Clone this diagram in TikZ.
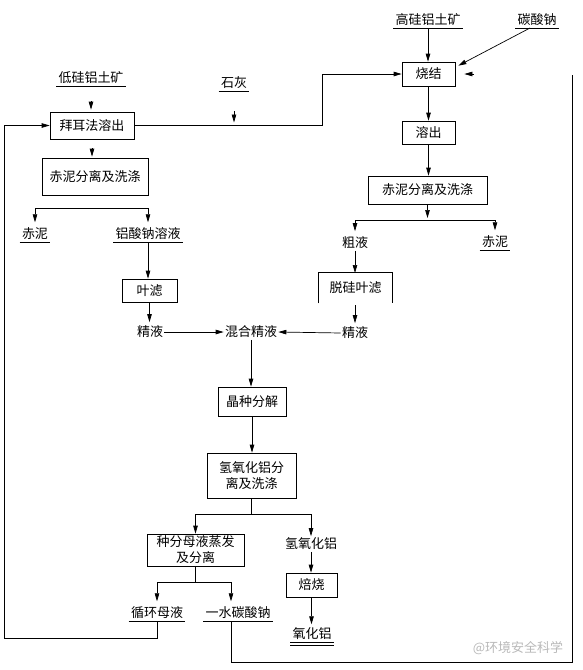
\documentclass[tikz,border=0pt]{standalone}
\usepackage{fontspec}
\setmainfont{Noto Sans CJK SC}
\usetikzlibrary{arrows.meta,calc}
\begin{document}
\begin{tikzpicture}[x=1pt,y=-1pt,line width=0.7pt,
  every node/.style={font=\fontsize{13}{16}\selectfont,inner sep=1pt},
  box/.style={draw,align=center},
  lbl/.style={anchor=south,text height=11pt,text depth=2pt,inner xsep=2pt,inner ysep=1pt},
  txt/.style={text height=11pt,text depth=2pt},
  arr/.style={-{Triangle[length=8pt,width=4.5pt]}}]
\useasboundingbox (0,0) rectangle (583,670);
% labels
\node[lbl] (low) at (91,86) {低硅铝土矿};
\node[lbl] (lime) at (234,91) {石灰};
\node[lbl] (high) at (428,28) {高硅铝土矿};
\node[lbl] (soda) at (537,28) {碳酸钠};
\node[lbl] (redL) at (35,242) {赤泥};
\node[lbl] (alum) at (148,242) {铝酸钠溶液};
\node[txt] (crude) at (355,243) {粗液};
\node[lbl] (redR) at (495,250) {赤泥};
\node[txt] (jingL) at (150,332) {精液};
\node[txt] (mix) at (251,332) {混合精液};
\node[txt] (jingR) at (355,333) {精液};
\node[txt] (hydro) at (311,544) {氢氧化铝};
\node[lbl] (circ) at (157,621) {循环母液};
\node[lbl] (mono) at (238,621) {一水碳酸钠};
\node[lbl] (alumina) at (312,642) {氧化铝};
\node[text=gray!55] (wm) at (518,648) {@环境安全科学};
% boxes
\node[box,minimum width=84pt,minimum height=27pt] (bayer) at (92,125.5) {拜耳法溶出};
\node[box,minimum width=106pt,minimum height=37pt] (redsepL) at (95,176.5) {赤泥分离及洗涤};
\node[box,minimum width=53pt,minimum height=24pt] (sinter) at (428.5,74) {烧结};
\node[box,minimum width=53pt,minimum height=23pt] (dissolve) at (428.5,132.5) {溶出};
\node[box,minimum width=119pt,minimum height=28pt] (redsepR) at (427.5,190) {赤泥分离及洗涤};
\node[minimum width=73pt,minimum height=30pt] (desil) at (355.5,288) {脱硅叶滤};
\node[box,minimum width=55pt,minimum height=23pt] (leaf) at (149.5,290.5) {叶滤};
\node[box,minimum width=68pt,minimum height=29pt] (seed) at (252,401.5) {晶种分解};
\node[box,minimum width=89pt,minimum height=45pt] (hsep) at (251.5,475.5) {氢氧化铝分\\离及洗涤};
\node[box,minimum width=97pt,minimum height=32pt] (evap) at (195.5,550) {种分母液蒸发\\及分离};
\node[box,minimum width=51pt,minimum height=24pt] (calc) at (311.5,585) {焙烧};
\draw (desil.south west) -- (desil.north west) -- (desil.north east) -- (desil.south east);
% underlines
\foreach \n in {low,lime,high,soda,redL,alum,redR,circ,mono,alumina}
  \draw (\n.south west) -- (\n.south east);
\draw ([yshift=-3pt]alumina.south west) -- ([yshift=-3pt]alumina.south east);
% coordinates
\coordinate (tx) at (322,0);
\coordinate (retin) at (474,74);
\coordinate (rc) at (572,75);
\coordinate (rb) at (572,662);
\coordinate (lb) at (4,638);
\coordinate (sl) at (95,208);
\coordinate (sr) at (427.5,220);
\coordinate (dtop) at (355,273);
\coordinate (dbot) at (355,305);
\coordinate (sh) at (251.5,514);
\coordinate (se) at (195.5,582);
% connectors
\draw[arr,shorten <=15pt,shorten >=2pt] (low.south) -- (low.south |- bayer.north);
\draw[arr,shorten <=20pt,shorten >=3pt] (lime.south) -- (lime.south |- bayer.east);
\draw[arr] (bayer.east) -- (bayer.east -| tx) |- (sinter.west);
\draw[arr] (high.south) -- (high.south |- sinter.north);
\draw[arr] ([xshift=-7pt]soda.south) -- ([xshift=3pt,yshift=-4pt]sinter.north east);
\draw[arr,shorten >=9pt] (retin) -- (sinter.east);
\draw ([xshift=-7pt]mono.south) |- (rb) -- (rc);
\draw[arr] (circ.south) |- (lb) |- (bayer.west);
\draw[arr,shorten <=9pt,shorten >=1pt] (bayer.south) -- (bayer.south |- redsepL.north);
\draw[arr,shorten >=4pt] (sl) -| (redL.north);
\draw[arr,shorten >=4pt] (sl) -| (alum.north);
\draw[arr] (alum.south) -- (alum.south |- leaf.north);
\draw[arr,shorten >=2pt] (leaf.south) -- (leaf.south |- jingL.north);
\draw[arr] (jingL.east) -- (mix.west);
\draw[arr] (jingR.west) -- (mix.east);
\draw[arr] (sinter.south) -- (dissolve.north);
\draw[arr] (dissolve.south) -- (dissolve.south |- redsepR.north);
\draw[arr,shorten >=2pt] (redsepR.south) -- (sr);
\draw[arr,shorten >=4pt] (sr) -| (crude.north);
\draw[arr,shorten >=4pt] (sr) -| (redR.north);
\draw[arr] (crude.south) -- (dtop);
\draw[arr,shorten >=2pt] (dbot) -- (jingR.north);
\draw[arr] (mix.south) -- (mix.south |- seed.north);
\draw[arr] (seed.south) -- (seed.south |- hsep.north);
\draw (hsep.south) -- (sh);
\draw[arr] (sh) -| (evap.north);
\draw[arr] (sh) -| (hydro.north);
\draw (evap.south) -- (se);
\draw[arr,shorten >=4pt] (se) -| (circ.north);
\draw[arr,shorten >=4pt] (se) -| ([xshift=-7pt]mono.north);
\draw[arr] (hydro.south) -- (hydro.south |- calc.north);
\draw[arr,shorten >=2pt] (calc.south) -- (calc.south |- alumina.north);
\end{tikzpicture}
\end{document}
